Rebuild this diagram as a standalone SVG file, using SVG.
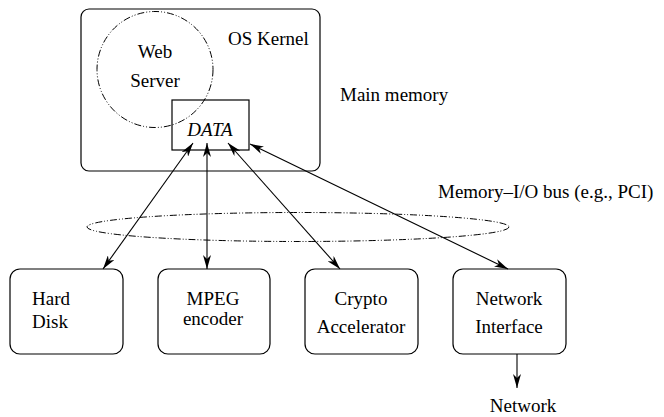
<svg xmlns="http://www.w3.org/2000/svg" width="664" height="417" viewBox="0 0 664 417">
<style>
.box{fill:#fff;stroke:#000;stroke-width:1.2}
.dash{fill:none;stroke:#000;stroke-width:1;stroke-dasharray:7 2 1 2 1 2}
.t{font-family:"Liberation Serif","Times New Roman",serif;font-size:19px;fill:#000}
.c{text-anchor:middle}
.edge{stroke:#000;stroke-width:1.1;fill:none}
</style>
<defs>
<marker id="ah" viewBox="0 0 14 8" refX="14" refY="4" markerWidth="14" markerHeight="8" markerUnits="userSpaceOnUse" orient="auto-start-reverse">
<path d="M0,0 L14,4 L0,8 L4,4 z" fill="#000"/>
</marker>
</defs>
<rect width="664" height="417" fill="#fff"/>
<g id="kernel">
<rect class="box" x="81" y="9" width="239" height="162" rx="8"/>
<text class="t" x="228" y="45">OS Kernel</text>
</g>
<g id="webserver">
<circle class="dash" cx="155" cy="69.5" r="58"/>
<text class="t c" x="155" y="58">Web</text>
<text class="t c" x="155" y="87">Server</text>
</g>
<g id="data">
<rect class="box" x="172" y="100" width="77" height="50" fill="none" style="fill:none"/>
<text class="t c" x="210" y="136" font-style="italic">DATA</text>
</g>
<g id="mainmemory">
<text class="t" x="340" y="101">Main memory</text>
</g>
<g id="bus">
<ellipse class="dash" cx="298" cy="227" rx="211" ry="14.5"/>
<text class="t" x="438" y="198">Memory–I/O bus (e.g., PCI)</text>
</g>
<g id="harddisk">
<rect class="box" x="10" y="269" width="113" height="85" rx="10"/>
<text class="t" x="32" y="305">Hard</text>
<text class="t" x="32" y="328">Disk</text>
</g>
<g id="mpeg">
<rect class="box" x="158" y="269" width="112" height="85" rx="10"/>
<text class="t c" x="213" y="305">MPEG</text>
<text class="t c" x="213" y="325">encoder</text>
</g>
<g id="crypto">
<rect class="box" x="305" y="269" width="113" height="85" rx="10"/>
<text class="t c" x="361" y="305">Crypto</text>
<text class="t c" x="361" y="333">Accelerator</text>
</g>
<g id="netif">
<rect class="box" x="453" y="269" width="113" height="85" rx="10"/>
<text class="t c" x="509" y="305">Network</text>
<text class="t c" x="509" y="333">Interface</text>
</g>
<g id="network">
<text class="t c" x="523" y="412">Network</text>
</g>
<g id="connectors">
<line class="edge" x1="193" y1="143" x2="103" y2="269" marker-start="url(#ah)" marker-end="url(#ah)"/>
<line class="edge" x1="207" y1="143" x2="207" y2="269" marker-start="url(#ah)" marker-end="url(#ah)"/>
<line class="edge" x1="228" y1="143" x2="340" y2="269" marker-start="url(#ah)" marker-end="url(#ah)"/>
<line class="edge" x1="250" y1="144" x2="508" y2="269" marker-start="url(#ah)" marker-end="url(#ah)"/>
<line class="edge" x1="517" y1="354" x2="517" y2="388" marker-end="url(#ah)"/>
</g>
</svg>
